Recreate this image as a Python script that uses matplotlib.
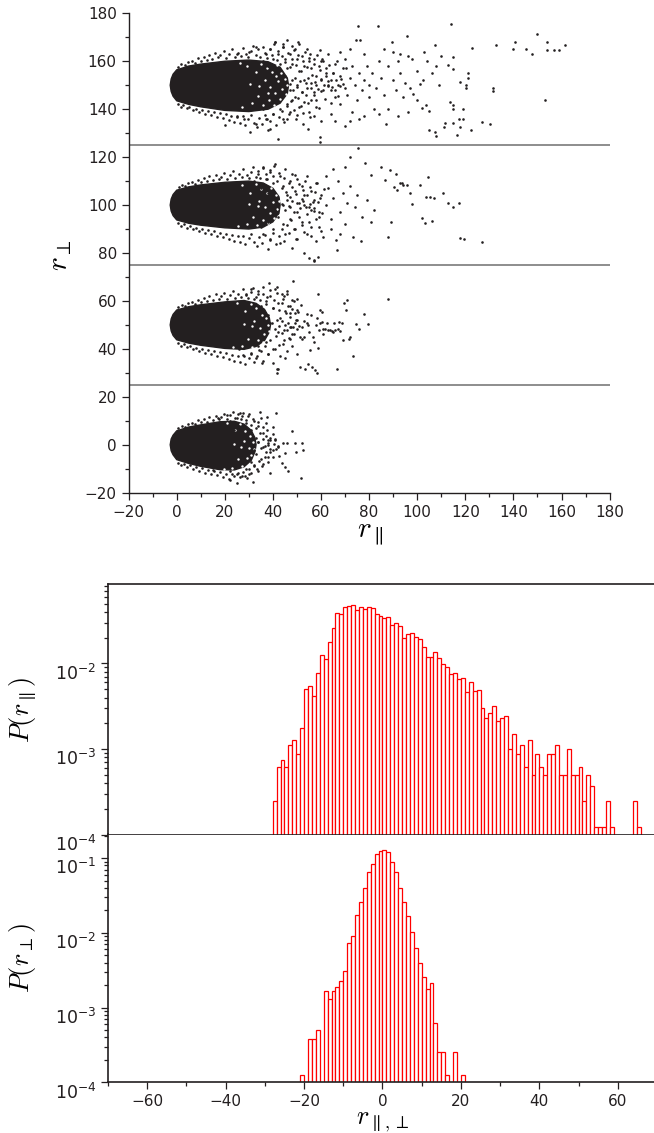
import numpy as np
import matplotlib
matplotlib.use("Agg")
import matplotlib.pyplot as plt
from matplotlib.ticker import MultipleLocator, LogLocator, NullFormatter
from matplotlib.transforms import ScaledTranslation

plt.rcParams['mathtext.fontset'] = 'cm'
plt.rcParams['font.family'] = ['DejaVu Sans']

INK = '#231f20'

# ---------------- scatter data (r_par, r_perp), groups offset by 50 ----------------
# solid part of each cloud, as an outline
core150_x = [-2.7, -2.3, -1.5, 0, 5, 10, 20, 30, 38, 43, 46, 46.5, 46, 43, 38, 30, 20, 10, 5, 0, -1.5, -2.3]
core150_y = [150, 152.6, 154.6, 156.4, 158, 158.8, 160, 160.5, 159.8, 157.5, 153, 150, 146.5, 142.5, 140,
             139, 139.5, 141, 142, 143.5, 145.4, 147.4]
core100_x = [-2.7, -2.3, -1.5, 0, 5, 10, 20, 30, 36, 40, 42.5, 43, 42.5, 40, 36, 30, 20, 10, 5, 0, -1.5, -2.3]
core100_y = [100, 102.5, 104.4, 106.2, 107.6, 108.4, 109.5, 110, 109.2, 107, 103.5, 100, 96.5, 93, 90.8, 90,
             90.5, 91.6, 92.4, 93.8, 95.6, 97.5]
core50_x = [-2.7, -2.3, -1.5, 0, 5, 10, 20, 28, 33, 36.5, 38.5, 39, 38.5, 36.5, 33, 28, 20, 10, 5, 0, -1.5, -2.3]
core50_y = [50, 52.5, 54.4, 56.2, 57.6, 58.4, 59.6, 60.2, 59, 56.5, 53, 50, 47, 43.5, 41, 39.8, 40.2, 41.5,
            42.4, 43.8, 45.6, 47.5]
core0_x = [-2.7, -2.3, -1.5, 0, 5, 10, 18, 24, 28, 31, 32.5, 33, 32.5, 31, 28, 24, 18, 10, 5, 0, -1.5, -2.3]
core0_y = [0, 2.4, 4, 5.8, 7.4, 8.3, 9.6, 9.8, 8.6, 6, 3, 0, -3, -6.5, -9.2, -10.5, -10.4, -9, -7.8, -6.2,
           -4.2, -2.5]

# empty specks inside the thinning right part of each cloud
holes150 = [(29.3, 158.1), (31.2, 142.4), (32.8, 155.6), (33.9, 145.3), (35.1, 159.0), (35.7, 141.6),
            (36.6, 152.3), (37.4, 157.2), (38.2, 143.9), (38.9, 149.1), (39.7, 155.4), (40.3, 141.8),
            (40.8, 146.7), (41.6, 158.3), (42.1, 151.6), (42.8, 144.2), (43.3, 155.1), (43.9, 148.4),
            (44.4, 142.9), (44.9, 152.7), (45.5, 146.3), (45.8, 150.2), (30.5, 150.5), (34.2, 149.8),
            (27.1, 141.0), (26.3, 159.4), (37.9, 146.6), (41.2, 153.8)]
holes100 = [(27.2, 108.3), (29.1, 92.0), (30.6, 105.2), (31.7, 95.1), (32.9, 108.6), (33.5, 91.7),
            (34.4, 101.9), (35.2, 106.8), (36.0, 93.9), (36.7, 99.0), (37.5, 104.9), (38.1, 92.6),
            (38.6, 96.6), (39.4, 107.1), (39.9, 101.3), (40.6, 94.4), (41.1, 104.3), (41.7, 98.5),
            (42.2, 95.6), (42.4, 101.9), (30.0, 100.4), (33.6, 99.6), (25.4, 91.3)]
holes50 = [(25.1, 59.3), (27.0, 41.2), (28.5, 56.0), (29.6, 44.2), (30.8, 58.9), (31.4, 40.9), (32.3, 51.8),
           (33.1, 56.9), (33.9, 43.5), (34.6, 48.6), (35.4, 54.1), (36.0, 42.8), (36.5, 46.2), (37.3, 52.9),
           (37.8, 49.8), (38.3, 47.4), (28.0, 50.3), (31.5, 49.5), (23.3, 40.8)]
holes0 = [(21.1, 9.2), (22.8, -9.9), (24.2, 6.0), (25.3, -6.1), (26.4, 8.5), (27.0, -9.0), (27.8, 1.6),
          (28.5, 5.8), (29.2, -5.4), (29.9, -1.2), (30.5, 3.6), (31.0, -4.3), (31.6, 1.3), (32.1, -1.9),
          (24.0, 0.3), (26.9, -0.8), (19.5, -10.0)]

# grainy edge of each cloud
fringe150 = [
    (0.7, 157.8), (1.9, 158.9), (3.4, 158.3), (4.6, 159.6), (6.2, 160.1), (7.5, 159.2), (8.8, 161.2),
    (9.9, 160.3), (11.3, 161.8), (12.6, 160.4), (13.4, 162.7), (14.8, 161.1), (16.1, 163.4), (17.3, 161.6),
    (18.2, 162.6), (19.6, 164.2), (20.7, 161.5), (21.9, 163.1), (23.2, 165.0), (24.1, 161.9), (25.5, 163.6),
    (26.8, 162.2), (27.4, 165.7), (28.9, 163.0), (29.7, 161.8), (30.8, 164.4), (31.6, 166.5), (32.9, 162.5),
    (33.7, 164.9), (34.6, 161.9), (35.8, 166.1), (36.9, 163.4), (37.5, 161.5), (38.6, 165.2), (39.8, 162.7),
    (40.4, 167.2), (41.5, 160.6), (42.3, 164.1), (43.6, 162.0), (44.4, 166.0), (45.2, 159.6), (46.3, 163.3),
    (47.1, 157.4), (47.9, 161.1), (48.8, 164.8), (49.6, 158.6), (50.5, 162.4), (51.7, 155.8), (52.4, 160.2),
    (53.3, 163.7), (54.1, 157.5), (55.2, 161.5), (56.4, 154.3), (57.1, 159.0), (58.3, 162.8), (59.4, 156.4),
    (60.6, 160.8), (62.2, 153.9), (63.5, 158.3), (65.1, 155.2), (66.8, 160.0), (68.4, 152.5), (70.3, 157.1),
    (0.5, 142.1), (1.6, 141.0), (2.8, 141.9), (4.1, 140.4), (5.3, 141.1), (6.7, 139.6), (8.0, 140.2),
    (9.2, 138.8), (10.6, 139.7), (11.8, 138.1), (12.9, 139.3), (14.3, 137.6), (15.5, 138.7), (16.7, 136.8),
    (17.8, 138.2), (19.1, 136.2), (20.4, 137.8), (21.6, 135.6), (22.7, 137.2), (23.9, 134.7), (25.2, 136.6),
    (26.4, 134.1), (27.6, 137.0), (28.5, 133.3), (29.8, 135.8), (30.9, 137.5), (32.1, 134.2), (33.4, 132.6),
    (34.2, 136.3), (35.5, 133.8), (36.7, 137.4), (37.8, 131.5), (38.9, 135.2), (40.1, 138.0), (41.2, 133.6),
    (42.6, 136.7), (43.8, 139.4), (44.7, 134.8), (45.9, 141.2), (46.8, 137.9), (47.6, 143.3), (48.7, 139.8),
    (49.5, 135.7), (50.6, 144.6), (51.8, 141.5), (52.7, 138.3), (53.9, 146.0), (54.8, 142.7), (55.6, 136.9),
    (56.9, 147.2), (57.8, 143.8), (59.1, 140.6), (60.2, 147.5), (61.5, 144.3), (62.9, 149.6), (64.3, 142.5),
    (65.7, 148.0), (67.2, 145.6), (69.1, 150.3),
    (47.3, 150.6), (48.4, 147.8), (49.2, 153.1), (50.1, 149.4), (51.3, 151.9), (52.1, 147.1), (53.6, 150.8),
    (54.6, 152.9), (55.9, 149.0), (57.4, 151.5), (58.8, 148.3), (60.0, 152.7), (61.2, 150.1), (63.1, 151.6),
    (64.7, 149.3), (66.3, 152.2), (68.0, 149.6),
]
fringe100 = [
    (0.8, 107.5), (2.1, 108.4), (3.5, 107.9), (4.8, 109.1), (6.3, 109.6), (7.6, 108.8), (8.9, 110.6),
    (10.2, 109.7), (11.5, 111.2), (12.7, 109.9), (13.6, 112.0), (15.0, 110.5), (16.3, 112.7), (17.5, 110.9),
    (18.4, 111.9), (19.8, 113.4), (20.9, 110.9), (22.1, 112.5), (23.4, 114.2), (24.3, 111.3), (25.7, 113.0),
    (27.0, 111.6), (27.6, 115.0), (29.1, 112.4), (29.9, 111.2), (31.0, 113.8), (31.8, 115.8), (33.1, 111.9),
    (33.9, 114.3), (34.8, 111.3), (36.0, 115.4), (37.1, 112.8), (37.7, 110.9), (38.8, 114.6), (40.0, 112.1),
    (40.6, 116.4), (41.7, 109.9), (42.5, 113.4), (43.8, 107.3), (44.6, 111.3), (45.4, 105.6), (46.5, 109.4),
    (47.3, 103.3), (48.1, 107.5), (49.0, 112.6), (49.8, 104.8), (50.7, 108.6), (51.9, 102.5), (52.6, 106.4),
    (53.5, 110.2), (54.3, 104.1), (55.4, 107.6), (56.6, 101.2), (57.3, 105.3), (58.5, 109.0), (59.6, 102.8),
    (61.2, 106.5),
    (0.6, 92.4), (1.7, 91.3), (2.9, 92.1), (4.2, 90.6), (5.4, 91.3), (6.8, 89.9), (8.1, 90.5), (9.3, 89.1),
    (10.7, 90.0), (11.9, 88.4), (13.0, 89.6), (14.4, 87.9), (15.6, 89.0), (16.8, 87.1), (17.9, 88.5),
    (19.2, 86.5), (20.5, 88.1), (21.7, 85.9), (22.8, 87.5), (24.0, 85.0), (25.3, 86.9), (26.5, 84.4),
    (27.7, 87.3), (28.6, 83.6), (29.9, 86.1), (31.0, 87.8), (32.2, 84.5), (33.5, 82.9), (34.3, 86.6),
    (35.6, 84.1), (36.8, 87.7), (37.9, 81.8), (39.0, 85.5), (40.2, 88.3), (41.3, 83.9), (42.7, 87.0),
    (43.9, 90.1), (44.8, 85.1), (46.0, 91.5), (46.9, 88.2), (47.7, 93.6), (48.8, 90.1), (49.6, 86.0),
    (50.7, 94.9), (51.9, 91.8), (52.8, 88.6), (54.0, 96.3), (54.9, 93.0), (55.7, 87.2), (57.0, 97.5),
    (57.9, 94.1), (59.2, 90.9), (60.4, 96.8),
    (43.8, 100.6), (44.9, 97.8), (45.7, 102.1), (46.6, 99.4), (47.8, 101.9), (48.6, 97.1), (50.1, 100.8),
    (51.1, 98.9), (52.4, 101.5), (53.9, 99.0), (55.3, 100.3), (57.1, 98.6), (58.7, 101.2),
]
fringe50 = [
    (0.7, 57.5), (2.0, 58.4), (3.4, 57.9), (4.7, 59.1), (6.2, 59.6), (7.5, 58.8), (8.8, 60.6), (10.1, 59.7),
    (11.4, 61.2), (12.6, 59.9), (13.5, 62.0), (14.9, 60.5), (16.2, 62.7), (17.4, 60.9), (18.3, 61.9),
    (19.7, 63.4), (20.8, 61.0), (22.0, 62.5), (23.3, 64.2), (24.2, 61.4), (25.6, 63.0), (26.9, 61.7),
    (27.5, 65.0), (29.0, 62.4), (29.8, 61.2), (30.9, 63.8), (31.7, 65.6), (33.0, 61.6), (33.8, 64.0),
    (34.7, 60.5), (35.9, 63.1), (37.0, 58.6), (37.6, 61.8), (38.7, 64.6), (39.9, 57.2), (40.5, 60.4),
    (41.6, 63.3), (42.4, 56.1), (43.7, 59.2), (44.5, 62.0), (45.3, 54.9), (46.4, 57.9), (47.2, 53.4),
    (48.0, 56.6), (48.9, 60.1), (49.7, 52.1), (50.6, 55.3), (51.8, 58.4), (53.0, 51.6), (54.2, 54.7),
    (0.6, 42.4), (1.7, 41.3), (2.9, 42.1), (4.2, 40.6), (5.4, 41.3), (6.8, 39.9), (8.1, 40.5), (9.3, 39.1),
    (10.7, 40.0), (11.9, 38.4), (13.0, 39.6), (14.4, 37.9), (15.6, 39.0), (16.8, 37.1), (17.9, 38.5),
    (19.2, 36.5), (20.5, 38.1), (21.7, 35.9), (22.8, 37.5), (24.0, 35.0), (25.3, 36.9), (26.5, 34.4),
    (27.7, 37.3), (28.6, 33.6), (29.9, 36.1), (31.0, 38.2), (32.2, 34.5), (33.5, 36.9), (34.3, 39.6),
    (35.6, 34.1), (36.8, 41.3), (37.9, 37.8), (39.0, 43.5), (40.2, 39.9), (41.3, 45.2), (42.7, 41.6),
    (43.9, 46.8), (44.8, 43.5), (46.0, 47.9), (46.9, 44.6), (47.7, 49.0), (48.8, 46.1), (50.1, 48.2),
    (51.4, 45.0),
    (39.8, 50.6), (40.9, 48.3), (41.7, 52.2), (42.6, 49.6), (43.8, 51.5), (44.6, 47.9), (46.1, 50.8),
    (47.3, 49.2), (49.0, 51.0), (50.8, 49.7),
]
fringe0 = [
    (0.7, 7.1), (2.0, 8.0), (3.4, 7.5), (4.7, 8.8), (6.2, 9.2), (7.5, 8.5), (8.8, 10.2), (10.1, 9.4),
    (11.4, 10.9), (12.6, 9.7), (13.5, 11.6), (14.9, 10.3), (16.2, 12.2), (17.4, 10.7), (18.3, 11.6),
    (19.7, 13.0), (20.8, 10.9), (22.0, 12.4), (23.3, 13.6), (24.2, 11.3), (25.6, 12.7), (26.9, 10.9),
    (27.5, 13.4), (29.0, 10.2), (29.8, 12.1), (30.9, 8.4), (31.7, 10.9), (33.0, 6.8), (33.8, 9.4),
    (34.7, 4.8), (35.9, 7.6), (37.0, 3.5), (37.6, 6.2), (38.7, 1.9), (39.9, 4.6), (41.0, 2.4),
    (0.6, -7.6), (1.7, -8.5), (2.9, -7.9), (4.2, -9.3), (5.4, -8.6), (6.8, -10.0), (8.1, -9.3),
    (9.3, -10.8), (10.7, -9.9), (11.9, -11.6), (13.0, -10.4), (14.4, -12.1), (15.6, -11.0), (16.8, -12.8),
    (17.9, -11.5), (19.2, -13.4), (20.5, -12.0), (21.7, -14.1), (22.8, -12.4), (24.0, -13.2), (25.3, -11.8),
    (26.5, -13.6), (27.7, -11.2), (28.6, -12.9), (29.9, -10.0), (31.0, -11.9), (32.2, -8.4), (33.5, -10.3),
    (34.3, -6.6), (35.6, -8.9), (36.8, -4.9), (37.9, -7.0), (39.0, -3.1), (40.2, -5.2), (41.3, -1.7),
    (33.8, 1.2), (34.9, -1.5), (35.8, 2.6), (36.6, -0.4), (37.8, 0.9), (38.9, -1.8), (40.3, 0.3),
    (42.1, -0.6),
]

# individual scattered points further out
tail150_x = [36, 37, 38, 39, 40, 41, 42, 42, 43, 44, 45, 46, 46, 47, 48, 49, 50, 50.6, 51, 52, 53, 54, 55, 55.4,
             56, 57, 58, 59, 59.6, 60,
             36, 38, 40, 41, 43, 44, 45, 47, 48, 49, 50, 52, 53, 54, 56, 57, 58, 60, 61, 62, 63,
             36, 37, 38.8, 39, 40, 41, 42.2, 43, 44, 45.7, 46, 47, 48, 49.9, 51, 52.6, 53, 54.7, 55, 56, 57,
             58, 59.6, 59.6, 60, 30.5, 20.1, 37.5, 33, 28, 25, 25, 30, 33,
             61, 62, 63, 64, 64, 65, 66, 66, 67, 68, 68, 69, 70, 70, 71, 72, 73, 73, 74, 74.6, 75, 75.5, 76,
             76.2, 77, 78, 78, 79, 80, 80, 81, 82, 83, 83.8, 84, 85, 86, 87, 64, 66, 70, 72, 76, 68, 72, 78,
             88, 89.4, 90, 91, 92, 93, 94, 95, 95.9, 96, 97, 98.4, 99.8, 100, 101.2, 101.9, 102.5, 103.7, 104,
             104.8, 105, 106, 107.4, 107.4, 107.8, 108, 109, 110, 111, 111.6, 112.7, 113.6, 114.1, 114.8,
             114.8, 115, 115, 115, 116.4, 117.5, 117.8, 117.8, 118.9, 119.2, 120.2, 120.2, 121.3, 121.3,
             122.2, 122.8, 126.8, 130.2, 86, 90, 93, 98, 103, 84, 88, 92, 96,
             131.4, 131.4, 132.8, 140.7, 140, 145.2, 147.7, 149.7, 153, 153.8, 157, 158.8, 161.5, 154.1,
             40.9, 44, 48, 51]
tail150_y = [160, 163, 158, 165, 161, 168, 156, 163, 159, 166, 161, 168.7, 157, 163, 159, 165, 161, 168, 156,
             162, 158, 165, 160, 163.2, 157, 161, 154, 158, 164.5, 160,
             153, 150, 148, 152, 146, 150, 154, 148, 152, 145, 150, 147, 152, 149, 151, 146, 150, 152, 148,
             155, 150,
             140, 136, 131.9, 142, 138, 144, 127.7, 140, 136, 136.1, 142, 139, 144, 137.5, 141, 134, 143,
             131.9, 139, 144, 137, 141, 128.4, 126.3, 135, 130.5, 133.3, 136, 134, 136, 137, 163, 164, 166,
             160, 157, 163, 152, 148, 155, 159, 145, 150, 154, 142, 157, 149, 161, 146, 153, 139, 158, 150,
             168.7, 144, 174.5, 155, 168.7, 148, 152, 137, 158, 145, 150, 155, 140, 149, 174.9, 160, 153, 146,
             134, 138, 135, 133, 135, 136, 164, 165, 163,
             158, 168, 152, 148, 160, 155, 145, 151, 170.6, 162, 149, 146.5, 144, 156, 150.6, 140.6, 152,
             141.6, 160, 139.2, 131.2, 155, 166.6, 130.5, 128.7, 158, 150, 162, 132.6, 134.2, 158.3, 143,
             175.6, 141.6, 140.1, 161.7, 156.9, 134.3, 129.1, 136.1, 151.3, 132.6, 140.2, 136, 150, 149,
             155.1, 153.1, 131.5, 165.6, 134.7, 133.7, 165, 164, 163, 161, 164, 138, 140, 137, 139,
             148.8, 147.7, 166.6, 168, 165.2, 165.2, 163.2, 171.5, 144, 164.5, 164.5, 164.5, 166.6, 168,
             168, 167, 166.5, 167]

tail100_x = [32, 34, 35, 36, 37, 38, 39, 40, 41, 42, 43, 44, 45, 46, 47, 48, 49, 50, 51, 52, 53, 54, 55, 56,
             57, 58, 59, 60,
             33, 35, 36, 38, 39, 40, 42, 43, 44, 45, 47, 48, 49, 50, 52, 53, 54, 55, 56, 57, 58, 59, 60,
             38, 41, 44, 47, 50, 53, 56,
             61, 62, 63, 64, 65, 66.2, 66.8, 67, 68, 69, 70, 71, 72, 73.4, 74, 75, 75.5, 76.5, 77, 78.3, 79,
             80.7, 80.8, 82, 84.9, 86.6, 88, 88.7, 89, 90.4, 91.1, 91.5, 92.9, 93.6, 94, 95.9, 97, 97.7,
             101.2, 101.9, 103.2, 103.5, 104.4, 105.3, 106, 107, 110.9, 112.7, 114.8, 117.5, 117.8, 119.5,
             126.8, 62, 65, 70, 72, 64, 68, 58.8, 57]
tail100_y = [110, 113, 107, 116, 111, 105, 114, 109, 117, 103, 112, 108, 115, 104, 110, 113, 106, 111, 101,
             108, 104, 112, 99, 106, 102, 109, 97, 104,
             95, 91, 88, 93, 86, 90, 95, 84, 92, 88, 94, 82, 90, 86, 93, 80, 88, 78, 91, 77, 85, 95, 89,
             100, 98, 100, 99, 97, 100, 98,
             86.7, 100, 107, 94, 103, 85.6, 81.4, 110, 97, 105, 92, 101, 108, 86.7, 99, 104, 123.8, 85, 95,
             117.5, 102, 93, 112.4, 98, 115.9, 110.3, 86.7, 114.8, 93, 107.5, 113.1, 106.2, 109.2, 109.2,
             108.3, 108.3, 105, 100.6, 108.5, 94.4, 92.5, 103.4, 111.7, 103.4, 93.4, 103, 105, 100.9, 99,
             100.9, 86.3, 85.7, 84.4, 112, 115, 116, 120, 90, 88, 78.2, 76.5]

tail50_x = [27, 29, 30, 31, 32, 33, 34, 35, 36, 37, 38, 39, 40, 41, 42, 43, 44, 45, 46, 47, 48, 49, 50,
            26, 28, 30, 31, 33, 34, 35, 36, 37, 38, 40, 41, 42, 43, 44, 45, 46, 47, 48, 50,
            36, 39, 42, 45, 48, 50, 52, 53, 54, 55, 56, 57, 58, 59,
            54.8, 58.2, 59.6, 61.7, 63.1, 56.8, 58.9, 51.3, 53.4, 54.8, 57.5, 58.2, 56.1, 55.4, 51.9, 48.5,
            47.1, 49.9, 58.9, 59.6, 41.6, 41.8, 48.5, 38.5, 41.6, 45.7, 43.6,
            88, 69.7, 70.7, 70.4, 74.6, 75.9, 78, 79.4, 73.4, 66.8, 72.1, 71.5, 69.3, 68.9, 65.5, 67.3,
            67.2, 67.9, 63.7, 64.4, 65.1, 65.8, 62.6, 61, 61, 60.3, 60.3]
tail50_y = [60, 63, 57, 65, 61, 55, 63, 58, 66, 60, 54, 62, 57, 65, 59, 53, 61, 56, 63, 58, 60.5, 55, 61,
            40, 37, 42, 38, 36, 41, 39, 35, 43, 38, 34, 40, 31.5, 37, 42, 36, 39, 44, 41, 38,
            48, 51, 47, 50, 46, 52, 49, 45, 51, 47, 54, 43, 50, 48,
            49.9, 52.7, 50.6, 48.5, 47.8, 45.1, 40.2, 32.6, 31.8, 33.9, 31.2, 29.8, 32.6, 39.5, 44.3, 49.2,
            54.8, 56.2, 63.1, 56.2, 31.5, 30.1, 68.5, 67.4, 65.7, 64.3, 63,
            60.7, 59.2, 60.3, 56.4, 50.3, 48.2, 54.5, 50.3, 37.1, 31.6, 44.8, 44, 43.9, 51, 50.6, 51.3,
            48.1, 47.5, 47.8, 47.4, 47.1, 47.8, 50.6, 48.5, 46.4, 55.4, 51.3]

tail0_x = [20, 22, 24, 25, 26, 27, 28, 29, 30, 31, 32, 33, 34, 35, 36, 37, 38,
           20, 22, 24, 25, 26, 27, 28, 29, 30, 31, 32, 33, 34, 35, 36, 37, 38,
           30, 32, 34, 36, 38, 39, 40, 41, 42,
           34.6, 41.3, 47.8, 49.2, 52, 52.4, 49.6, 45.7, 44.3, 45, 42.7, 43.7, 45, 46.4, 51.6, 38.8, 29.1,
           24.9, 22.2, 31.9, 15.2, 17.3, 20.8, 26.3, 40.2, 37.4]
tail0_y = [7, 10, 6, 11, 8, 12, 4, 9, 13, 6, 10, 3, 8, 11, 5, 9, 2,
           -8, -11, -7, -12, -9, -13, -6, -10, -12, -7, -9, -4, -11, -6, -8, -3, -5,
           0, -2, 1, -1, 0, 3, -2, 2, -1,
           13.8, 13.3, 5.8, 0.6, 0.6, -2.2, -2.9, 0.6, 0.8, -3.6, -4.7, -7.8, -9.2, -10.8, -14, -11.9, -14,
           -16.1, -14.7, -15.4, -10.5, 11, 12.4, 13.1, 7.5, 11.7]

separators = [25, 75, 125]

# ---------------- histogram data ----------------
par_start = -28
p_par = [2.45e-4, 6.2e-4, 7.4e-4, 6.2e-4, 1.12e-3, 1.26e-3, 8.7e-4, 1.78e-3, 5.0e-3, 5.4e-3,
         4.2e-3, 7.8e-3, 0.0126, 0.0112, 0.0178, 0.0257, 0.0389, 0.0380, 0.0457, 0.0468,
         0.0479, 0.0417, 0.0457, 0.0437, 0.0457, 0.0447, 0.0380, 0.0355, 0.0339, 0.0347,
         0.0282, 0.0295, 0.0275, 0.0200, 0.0224, 0.0229, 0.0204, 0.0191, 0.0155, 0.0120,
         0.0120, 0.0138, 0.0117, 0.0098, 0.0091, 0.0076, 0.0078, 0.0065, 0.0068, 0.0046,
         0.0060, 0.0048, 0.0049, 0.0030, 0.0023, 0.0026, 0.0032, 0.0021, 0.0023, 0.0024,
         0.0010, 0.0015, 8.7e-4, 1.12e-3, 6.2e-4, 1.26e-3, 5.0e-4, 8.7e-4, 6.2e-4, 5.0e-4,
         8.7e-4, 8.7e-4, 1.12e-3, 5.0e-4, 5.0e-4, 1.0e-3, 5.0e-4, 5.0e-4, 6.2e-4, 2.45e-4,
         5.0e-4, 3.7e-4, 1.23e-4, 1.23e-4, 1.23e-4, 2.45e-4, 1.23e-4, 0, 0, 0,
         0, 0, 2.45e-4, 1.23e-4]

perp_start = -21
p_perp = [1.26e-4, 0, 3.8e-4, 3.8e-4, 5.0e-4, 0, 1.66e-3, 1.29e-3, 1.66e-3, 1.9e-3,
          2.3e-3, 3.1e-3, 7.2e-3, 9.1e-3, 0.0174, 0.0257, 0.0398, 0.066, 0.083, 0.112,
          0.126, 0.129, 0.120, 0.089, 0.066, 0.040, 0.0257, 0.0170, 0.0102, 0.0062,
          0.0039, 0.0026, 0.00178, 0.00214, 6.3e-4, 2.5e-4, 2.5e-4, 1.26e-4, 0, 2.5e-4,
          0, 1.26e-4]

fig = plt.figure(figsize=(6.54, 11.33), dpi=100)

# ---------------- top: scatter ----------------
ax = fig.add_axes([128.6 / 654, 1 - 492.7 / 1133, 481 / 654, 479.4 / 1133])
for cx, cy in [(core150_x, core150_y), (core100_x, core100_y), (core50_x, core50_y), (core0_x, core0_y)]:
    ax.fill(cx, cy, color=INK, lw=1.0, ec=INK, zorder=2)
for hl in [holes150, holes100, holes50, holes0]:
    hx_, hy_ = zip(*hl)
    ax.scatter(hx_, hy_, s=3, c='white', marker='o', linewidths=0, zorder=2.5)
for fr in [fringe150, fringe100, fringe50, fringe0]:
    fx, fy = zip(*fr)
    ax.scatter(fx, fy, s=3.5, c=INK, marker='o', linewidths=0, zorder=3)
for tx, ty in [(tail150_x, tail150_y), (tail100_x, tail100_y), (tail50_x, tail50_y), (tail0_x, tail0_y)]:
    ax.scatter(tx, ty, s=3.5, c=INK, marker='o', linewidths=0, zorder=3)
for s in separators:
    ax.axhline(s, color='#7a7a7a', lw=1.2, zorder=1)

ax.set_xlim(-20, 180)
ax.set_ylim(-20, 180)
ax.spines['top'].set_visible(False)
ax.spines['right'].set_visible(False)
for sp in ('left', 'bottom'):
    ax.spines[sp].set_color(INK)
    ax.spines[sp].set_linewidth(1.0)
ax.xaxis.set_major_locator(MultipleLocator(20))
ax.xaxis.set_minor_locator(MultipleLocator(10))
ax.yaxis.set_major_locator(MultipleLocator(20))
ax.yaxis.set_minor_locator(MultipleLocator(10))
ax.tick_params(which='both', direction='out', colors=INK, labelsize=11, width=0.9)
ax.tick_params(which='major', length=5)
ax.tick_params(which='minor', length=3)
ax.set_xlabel(r'$r_\parallel$', fontsize=21)
ax.xaxis.set_label_coords(0.502, -0.084)
ax.xaxis.label.set_va('center')
ax.set_ylabel(r'$r_\perp$', fontsize=21, va='center')
ax.yaxis.set_label_coords(-0.143, 0.496)


# ---------------- bottom: histograms ----------------
def hist_panel(rect, start, probs, ymax):
    h = fig.add_axes(rect)
    edges = start + np.arange(len(probs))
    h.bar(edges, probs, width=1.0, align='edge', bottom=1e-6,
          facecolor='white', edgecolor='red', linewidth=0.9)
    h.set_yscale('log')
    h.set_ylim(1e-4, ymax)
    h.set_xlim(-70, 70)
    h.spines['right'].set_visible(False)
    for sp in ('left', 'bottom', 'top'):
        h.spines[sp].set_color(INK)
        h.spines[sp].set_linewidth(1.2)
    h.xaxis.set_major_locator(MultipleLocator(20))
    h.xaxis.set_minor_locator(MultipleLocator(10))
    h.yaxis.set_major_locator(LogLocator(base=10, numticks=10))
    h.yaxis.set_minor_locator(LogLocator(base=10, subs=np.arange(2, 10), numticks=10))
    h.yaxis.set_minor_formatter(NullFormatter())
    h.tick_params(which='both', direction='out', colors=INK, width=0.9)
    h.tick_params(axis='x', labelsize=11)
    h.tick_params(axis='y', labelsize=12.5)
    h.tick_params(which='major', length=5)
    h.tick_params(which='minor', length=3)
    shift = ScaledTranslation(0, -6 / 72, fig.dpi_scale_trans)
    for lab in h.yaxis.get_majorticklabels():
        lab.set_transform(lab.get_transform() + shift)
    return h


hx = 108 / 654
hw = 549 / 654
h1 = hist_panel([hx, 1 - 834.5 / 1133, hw, 250.5 / 1133], par_start, p_par, 0.085)
h1.tick_params(axis='x', which='both', bottom=False, labelbottom=False)
h1.set_ylabel(r'$P(r_\parallel)$', fontsize=19, va='center')
h1.yaxis.set_label_coords(-0.155, 0.5)

h2 = hist_panel([hx, 1 - 1082.3 / 1133, hw, 247.8 / 1133], perp_start, p_perp, 0.207)
h2.spines['top'].set_visible(False)
h2.set_ylabel(r'$P(r_\perp)$', fontsize=19, va='center')
h2.yaxis.set_label_coords(-0.155, 0.5)
h2.set_xlabel(r'$r_{\parallel,\perp}$', fontsize=19)
h2.xaxis.set_label_coords(0.501, -0.158)
h2.xaxis.label.set_va('center')

fig.savefig('out.png', dpi=100)
